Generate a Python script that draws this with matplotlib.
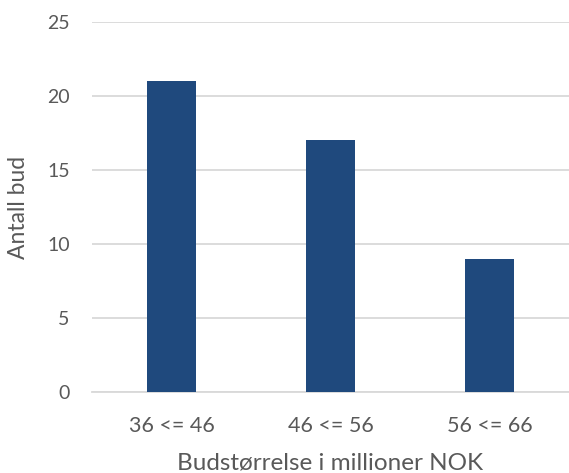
import matplotlib
matplotlib.use("Agg")
import matplotlib.pyplot as plt

categories = ["36 <= 46", "46 <= 56", "56 <= 66"]
antall_bud = [21, 17, 9]
y_ticks = [0, 5, 10, 15, 20, 25]

bar_color = "#1F497D"
text_color = "#595959"
grid_color = "#D9D9D9"

plt.rcParams["font.family"] = ["Lato", "DejaVu Sans"]

fig = plt.figure(figsize=(5.69, 4.73), dpi=100)
ax = fig.add_axes([92 / 569, 1 - 392 / 473, 1 - 92 / 569, (392 - 22) / 473])

x = range(len(categories))
ax.bar(x, antall_bud, width=0.31, color=bar_color, zorder=3)

ax.set_xlim(-0.5, len(categories) - 0.5)
ax.set_ylim(0, 25)
ax.set_yticks(y_ticks)
ax.set_xticks(list(x))
ax.set_xticklabels(categories)

ax.yaxis.grid(True, color=grid_color, linewidth=1.3, zorder=0)
ax.set_axisbelow(True)
for side in ["top", "right", "left"]:
    ax.spines[side].set_visible(False)
ax.spines["bottom"].set_color(grid_color)
ax.spines["bottom"].set_linewidth(1.3)

ax.tick_params(axis="both", length=0, colors=text_color)
ax.tick_params(axis="y", pad=16, labelsize=14)
ax.tick_params(axis="x", pad=17, labelsize=15.5)

ax.set_ylabel("Antall bud", fontsize=16.5, color=text_color, labelpad=13)
ax.set_xlabel("Budstørrelse i millioner NOK", fontsize=17.5, color=text_color, labelpad=12)

fig.savefig("out.png", dpi=100)
